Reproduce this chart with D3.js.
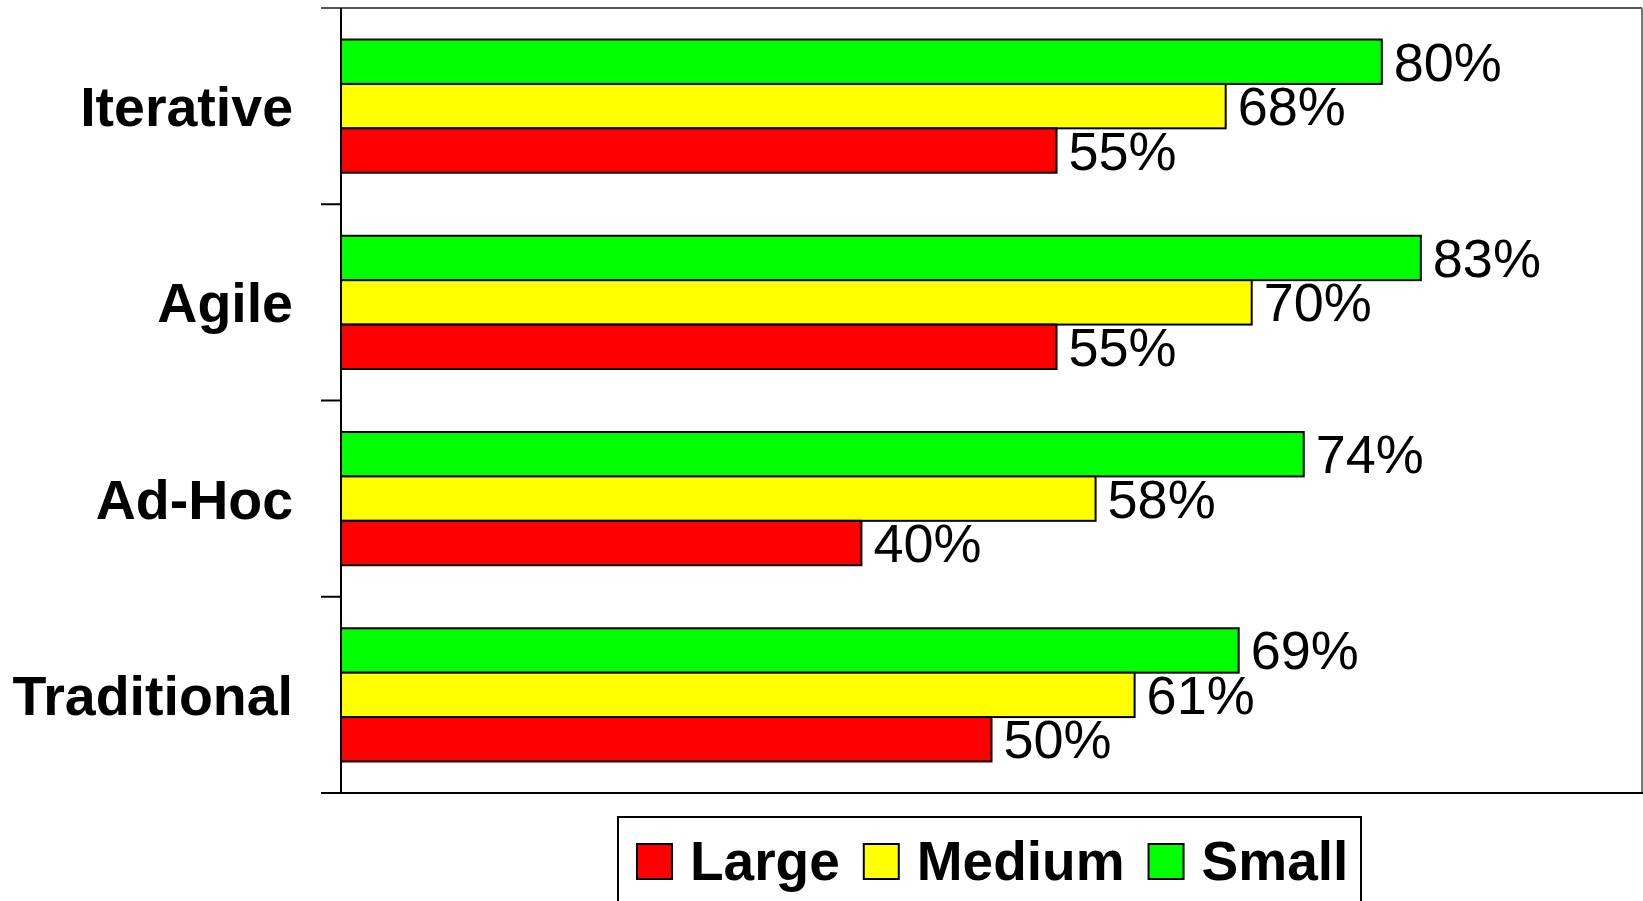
<!DOCTYPE html>
<html>
<head>
<meta charset="utf-8">
<script src="https://cdn.jsdelivr.net/npm/d3@7"></script>
<style>
body { margin: 0; background: #fff; }
svg { display: block; font-family: "Liberation Sans", Arial, sans-serif; }
</style>
</head>
<body>
<svg width="1643" height="901"></svg>
<script>
// chart data
const categories = ["Iterative", "Agile", "Ad-Hoc", "Traditional"];
const seriesNames = ["Small", "Medium", "Large"];
const smallVals = [80, 83, 74, 69];
const mediumVals = [68, 70, 58, 61];
const largeVals = [55, 55, 40, 50];
const legendOrder = ["Large", "Medium", "Small"];
const colors = { Large: "#ff0000", Medium: "#ffff00", Small: "#00ff00" };

const svg = d3.select("svg");

const plotLeft = 341, plotRight = 1642, plotTop = 8, plotBottom = 793;

let x = d3.scaleLinear()
    .domain([0, 100])
    .range([plotLeft, plotRight]);

let y = d3.scaleBand()
    .domain(categories)
    .range([plotTop, plotBottom]);

let inner = d3.scaleBand()
    .domain(seriesNames)
    .range([0, y.bandwidth()])
    .paddingOuter(0.71);

let rows = [];
categories.forEach(function(c, i) {
    rows.push({ cat: c, series: "Small", value: smallVals[i] });
    rows.push({ cat: c, series: "Medium", value: mediumVals[i] });
    rows.push({ cat: c, series: "Large", value: largeVals[i] });
});

// frame
svg.append("line")
    .attr("x1", 321).attr("x2", plotRight)
    .attr("y1", plotTop).attr("y2", plotTop)
    .attr("stroke", "#555").attr("stroke-width", 2);
svg.append("line")
    .attr("x1", plotRight).attr("x2", plotRight)
    .attr("y1", plotTop).attr("y2", plotBottom)
    .attr("stroke", "#777").attr("stroke-width", 2);

// bars
svg.selectAll("rect.bar")
    .data(rows)
    .enter()
    .append("rect")
    .attr("class", "bar")
    .attr("x", x(0))
    .attr("y", d => y(d.cat) + inner(d.series))
    .attr("width", d => x(d.value) - x(0))
    .attr("height", inner.bandwidth())
    .attr("fill", d => colors[d.series])
    .attr("stroke", "#000")
    .attr("stroke-width", 2);

// value labels
svg.selectAll("text.val")
    .data(rows)
    .enter()
    .append("text")
    .attr("class", "val")
    .attr("x", d => x(d.value) + 12)
    .attr("y", d => y(d.cat) + inner(d.series) + inner.bandwidth() / 2 + 19)
    .attr("font-size", 54)
    .attr("fill", "#000")
    .text(d => d.value + "%");

// left axis
svg.append("line")
    .attr("x1", plotLeft).attr("x2", plotLeft)
    .attr("y1", plotTop).attr("y2", plotBottom)
    .attr("stroke", "#000").attr("stroke-width", 2);

let tickYs = categories.map(c => y(c)).concat([y.range()[1]]);
svg.selectAll("line.tick")
    .data(tickYs.slice(1, -1))
    .enter()
    .append("line")
    .attr("class", "tick")
    .attr("x1", 321).attr("x2", plotLeft)
    .attr("y1", d => d).attr("y2", d => d)
    .attr("stroke", "#000").attr("stroke-width", 2);

// bottom axis line
svg.append("line")
    .attr("x1", 321).attr("x2", 1643)
    .attr("y1", plotBottom).attr("y2", plotBottom)
    .attr("stroke", "#000").attr("stroke-width", 2);

// category labels
svg.selectAll("text.cat")
    .data(categories)
    .enter()
    .append("text")
    .attr("class", "cat")
    .attr("x", 293)
    .attr("y", d => y(d) + y.bandwidth() / 2 + 20)
    .attr("text-anchor", "end")
    .attr("font-size", 55.5)
    .attr("font-weight", "bold")
    .text(d => d);

// legend
svg.append("rect")
    .attr("x", 618).attr("y", 817)
    .attr("width", 743).attr("height", 100)
    .attr("fill", "#fff")
    .attr("stroke", "#000").attr("stroke-width", 2);

let lx = 637;
legendOrder.forEach(function(name) {
    svg.append("rect")
        .attr("x", lx).attr("y", 844)
        .attr("width", 35).attr("height", 35)
        .attr("fill", colors[name])
        .attr("stroke", "#000").attr("stroke-width", 2);
    let t = svg.append("text")
        .attr("x", lx + 53)
        .attr("y", 880)
        .attr("font-size", 55)
        .attr("font-weight", "bold")
        .text(name);
    lx = lx + 53 + t.node().getComputedTextLength() + 24;
});
</script>
</body>
</html>
